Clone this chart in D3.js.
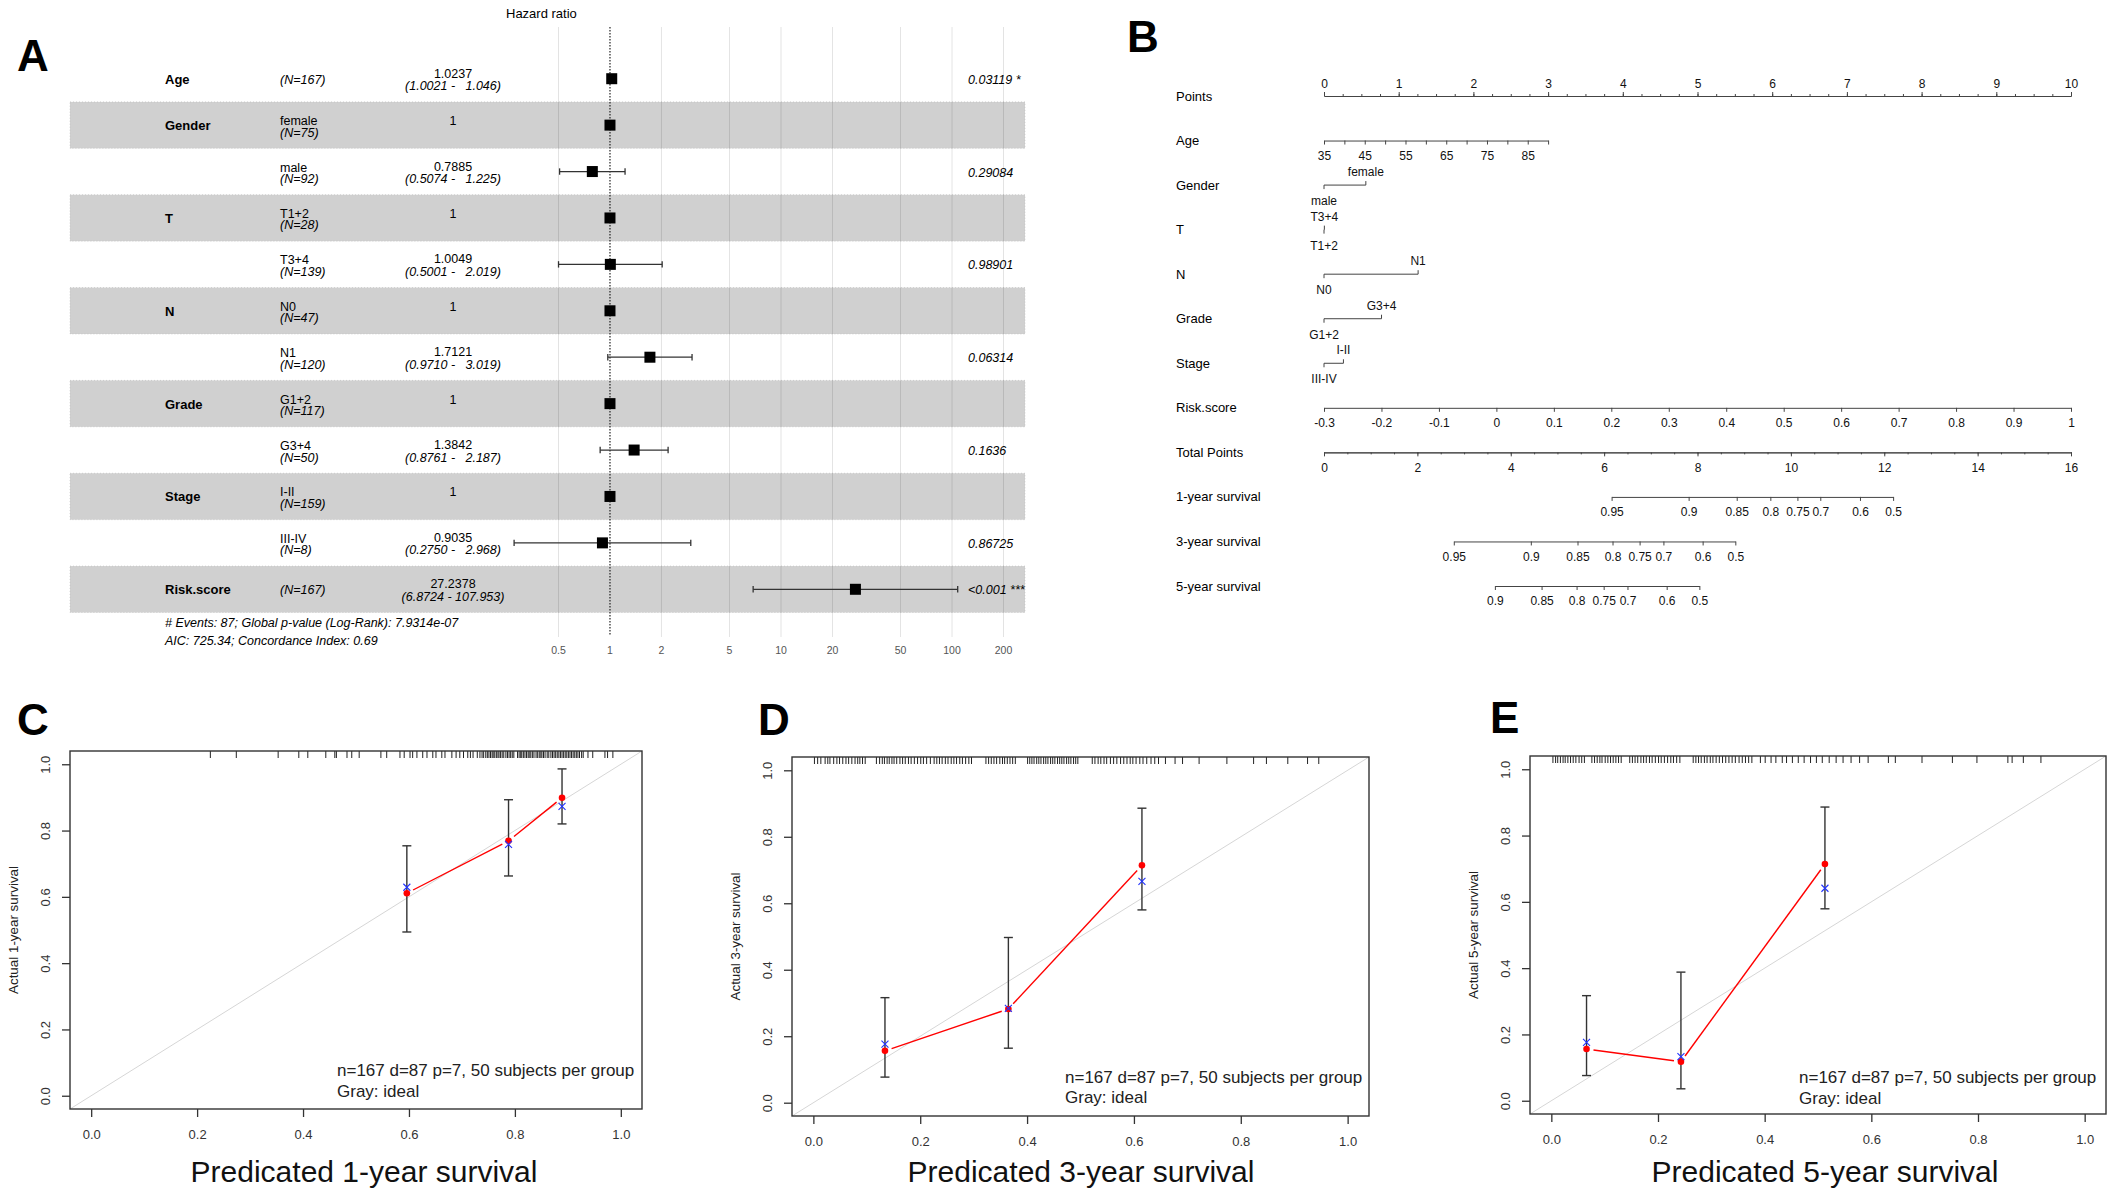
<!DOCTYPE html>
<html>
<head>
<meta charset="utf-8">
<script src="https://cdn.jsdelivr.net/npm/d3@7"></script>
<style>
body { margin: 0; background: #fff; }
text { font-family: 'Liberation Sans', Arial, sans-serif; }
.pre { white-space: pre; }
</style>
</head>
<body>
<script>
/* ------------------------------------------------------------------
 DATA
 -------------------------------------------------------------------- */

// panel A, forest plot
var forestVars   = ["Age","Gender","","T","","N","","Grade","","Stage","","Risk.score"];
var forestLevels = ["","female","male","T1+2","T3+4","N0","N1","G1+2","G3+4","I-II","III-IV",""];
var forestN      = [167,75,92,28,139,47,120,117,50,159,8,167];
var forestHR     = [1.0237,1,0.7885,1,1.0049,1,1.7121,1,1.3842,1,0.9035,27.2378];
var forestLo     = [1.0021,null,0.5074,null,0.5001,null,0.9710,null,0.8761,null,0.2750,6.8724];
var forestHi     = [1.046,null,1.225,null,2.019,null,3.019,null,2.187,null,2.968,107.953];
var forestHRText = ["1.0237","1","0.7885","1","1.0049","1","1.7121","1","1.3842","1","0.9035","27.2378"];
var forestCIText = ["(1.0021 -   1.046)","","(0.5074 -   1.225)","","(0.5001 -   2.019)","",
                    "(0.9710 -   3.019)","","(0.8761 -   2.187)","","(0.2750 -   2.968)","(6.8724 - 107.953)"];
var forestP      = ["0.03119 *","","0.29084","","0.98901","","0.06314","","0.1636","","0.86725","<0.001 ***"];
var hrTicks      = [0.5,1,2,5,10,20,50,100,200];
var forestFooter = ["# Events: 87; Global p-value (Log-Rank): 7.9314e-07",
                    "AIC: 725.34; Concordance Index: 0.69"];

// panel B, nomogram
var nomoRows = ["Points","Age","Gender","T","N","Grade","Stage","Risk.score","Total Points",
                "1-year survival","3-year survival","5-year survival"];
var ageTicks  = [35,40,45,50,55,60,65,70,75,80,85,90];
var ageLabels = [35,45,55,65,75,85];
var ageMaxPts = 3.0;
var genderLevels = ["female","male"], genderPts = [0.56, 0];
var tLevels      = ["T3+4","T1+2"],   tPts      = [0.005, 0];
var nLevels      = ["N1","N0"],       nPts      = [1.26, 0];
var gradeLevels  = ["G3+4","G1+2"],   gradePts  = [0.77, 0];
var stageLevels  = ["I-II","III-IV"], stagePts  = [0.26, 0];
var riskTicks  = [-0.3,-0.2,-0.1,0,0.1,0.2,0.3,0.4,0.5,0.6,0.7,0.8,0.9,1];
var riskLabels = ["-0.3","-0.2","-0.1","0","0.1","0.2","0.3","0.4","0.5","0.6","0.7","0.8","0.9","1"];
var s1Ticks = ["0.95","0.9","0.85","0.8","0.75","0.7","0.6","0.5"];
var s1Pts   = [6.16,7.81,8.84,9.56,10.14,10.63,11.48,12.19];
var s3Ticks = ["0.95","0.9","0.85","0.8","0.75","0.7","0.6","0.5"];
var s3Pts   = [2.78,4.43,5.43,6.18,6.76,7.27,8.11,8.81];
var s5Ticks = ["0.9","0.85","0.8","0.75","0.7","0.6","0.5"];
var s5Pts   = [3.66,4.66,5.41,5.99,6.50,7.34,8.04];

// panels C, D, E, calibration
var c1Pred = [0.596,0.788,0.889], c1Obs = [0.611,0.769,0.899], c1Corr = [0.629,0.758,0.873];
var c1Lo   = [0.494,0.663,0.820], c1Hi  = [0.754,0.893,0.986];
var c3Pred = [0.134,0.365,0.615], c3Obs = [0.156,0.282,0.714], c3Corr = [0.176,0.284,0.666];
var c3Lo   = [0.077,0.164,0.580], c3Hi  = [0.316,0.497,0.886];
var c5Pred = [0.066,0.243,0.513], c5Obs = [0.156,0.118,0.714], c5Corr = [0.176,0.133,0.641];
var c5Lo   = [0.076,0.036,0.579], c5Hi  = [0.317,0.388,0.886];
var calTicks = [0,0.2,0.4,0.6,0.8,1];

var rugC = [0.225,0.274,0.353,0.392,0.409,0.443,0.460,0.463,0.483,0.492,0.506,0.547,0.558,0.583,0.591,
  0.602,0.607,0.615,0.626,0.634,0.645,0.651,0.662,0.668,0.681,0.689,0.696,0.703,0.711,0.716,0.721,0.729,
  0.734,0.738,0.741,0.745,0.748,0.751,0.754,0.757,0.759,0.762,0.765,0.768,0.770,0.773,0.776,0.779,0.783,
  0.786,0.789,0.792,0.795,0.798,0.805,0.808,0.811,0.813,0.816,0.819,0.822,0.825,0.827,0.830,0.833,0.836,
  0.840,0.843,0.846,0.849,0.851,0.854,0.857,0.861,0.864,0.868,0.871,0.874,0.877,0.880,0.883,0.886,0.889,
  0.892,0.895,0.898,0.901,0.904,0.907,0.910,0.913,0.916,0.919,0.922,0.926,0.929,0.938,0.947,0.970,0.975,0.985];
var rugD = [0.002,0.008,0.014,0.022,0.027,0.031,0.038,0.044,0.049,0.055,0.061,0.066,0.072,0.078,0.083,0.087,
  0.092,0.097,0.118,0.124,0.129,0.133,0.138,0.142,0.147,0.151,0.156,0.162,0.167,0.172,0.178,0.183,0.189,
  0.195,0.201,0.206,0.212,0.219,0.226,0.231,0.236,0.241,0.247,0.252,0.258,0.263,0.268,0.274,0.279,0.285,
  0.291,0.296,0.323,0.328,0.333,0.338,0.343,0.349,0.354,0.358,0.363,0.368,0.373,0.378,0.401,0.405,0.409,
  0.413,0.418,0.422,0.426,0.431,0.435,0.439,0.444,0.448,0.452,0.457,0.461,0.465,0.469,0.474,0.478,0.482,
  0.487,0.491,0.495,0.522,0.527,0.533,0.538,0.544,0.549,0.556,0.562,0.568,0.575,0.581,0.587,0.593,0.598,
  0.604,0.611,0.617,0.624,0.632,0.639,0.646,0.659,0.677,0.691,0.722,0.774,0.824,0.848,0.888,0.925,0.946];
var rugE = [0.003,0.008,0.012,0.017,0.022,0.026,0.031,0.036,0.041,0.046,0.052,0.057,0.062,0.076,0.081,0.086,
  0.091,0.095,0.101,0.106,0.111,0.116,0.121,0.126,0.131,0.147,0.152,0.157,0.162,0.168,0.173,0.178,0.184,
  0.189,0.195,0.201,0.206,0.212,0.218,0.224,0.229,0.235,0.241,0.266,0.271,0.276,0.281,0.287,0.292,0.298,
  0.303,0.309,0.315,0.321,0.327,0.333,0.339,0.345,0.352,0.358,0.364,0.370,0.376,0.392,0.401,0.412,0.421,
  0.433,0.441,0.452,0.463,0.474,0.486,0.497,0.508,0.521,0.534,0.547,0.562,0.578,0.594,0.632,0.645,0.695,
  0.752,0.798,0.856,0.864,0.885,0.918];

/* ------------------------------------------------------------------
 SVG
 -------------------------------------------------------------------- */

var FONT = "'Liberation Sans', Arial, sans-serif";

var svg = d3.select("body")
	.append("svg")
	.attr("width",2115)
	.attr("height",1197);

function letter(txt, x, y) {
	svg.append("text")
		.attr("x",x).attr("y",y)
		.attr("font-size",44)
		.attr("font-weight","bold")
		.text(txt);
}

/* ---------------- A: forest plot ---------------- */

var gA = svg.append("g");
var nRows = forestLevels.length;
var rowY = d3.scaleBand().domain(d3.range(nRows)).range([55.5, 612.5]);
var hrX = d3.scaleLog().domain([0.5,200]).range([558.5,1003.5]);
var bw = rowY.bandwidth();
function cy(i){ return rowY(i) + bw/2; }

gA.selectAll("rect.band")
	.data(d3.range(nRows).filter(function(i){ return i % 2 === 1; }))
	.enter()
	.append("rect")
	.attr("x",70).attr("width",955)
	.attr("y",function(i){ return rowY(i); })
	.attr("height",bw)
	.attr("fill","#d0d0d0")
	.attr("stroke","#bcbcbc")
	.attr("stroke-width",0.6)
	.attr("stroke-dasharray","1,2");

gA.selectAll("line.grid")
	.data(hrTicks.filter(function(t){ return t !== 1; }))
	.enter()
	.append("line")
	.attr("x1",function(t){ return hrX(t); })
	.attr("x2",function(t){ return hrX(t); })
	.attr("y1",27).attr("y2",637)
	.attr("stroke","#000")
	.attr("stroke-opacity",0.11)
	.attr("stroke-width",1);

gA.append("line")
	.attr("x1",hrX(1)).attr("x2",hrX(1))
	.attr("y1",27).attr("y2",636)
	.attr("stroke","#222")
	.attr("stroke-width",1.2)
	.attr("stroke-dasharray","1.5,1.5");

gA.selectAll("text.hrtick")
	.data(hrTicks)
	.enter()
	.append("text")
	.attr("x",function(t){ return hrX(t); })
	.attr("y",654)
	.attr("text-anchor","middle")
	.attr("font-size",10.5)
	.attr("fill","#555")
	.text(function(t){ return t; });

gA.append("text")
	.attr("x",506).attr("y",17.5)
	.attr("font-size",13)
	.text("Hazard ratio");

var rows = gA.selectAll("g.row")
	.data(d3.range(nRows))
	.enter()
	.append("g");

rows.append("text")
	.attr("x",165)
	.attr("y",function(i){ return cy(i) + 5; })
	.attr("font-size",13)
	.attr("font-weight","bold")
	.text(function(i){ return forestVars[i]; });

rows.append("text")
	.attr("x",280)
	.attr("y",function(i){ return cy(i); })
	.attr("font-size",12.5)
	.text(function(i){ return forestLevels[i]; });

rows.append("text")
	.attr("x",280)
	.attr("y",function(i){ return cy(i) + (forestLevels[i] ? 11.5 : 5); })
	.attr("font-size",12.5)
	.attr("font-style","italic")
	.text(function(i){ return "(N=" + forestN[i] + ")"; });

rows.append("text")
	.attr("x",453)
	.attr("y",function(i){ return cy(i) - (forestLo[i] === null ? 0 : 1); })
	.attr("text-anchor","middle")
	.attr("font-size",12.5)
	.text(function(i){ return forestHRText[i]; });

rows.append("text")
	.attr("class","pre")
	.attr("xml:space","preserve")
	.attr("x",453)
	.attr("y",function(i){ return cy(i) + 11.5; })
	.attr("text-anchor","middle")
	.attr("font-size",12.5)
	.attr("font-style","italic")
	.text(function(i){ return forestCIText[i]; });

rows.append("text")
	.attr("x",968)
	.attr("y",function(i){ return cy(i) + 5; })
	.attr("font-size",12.5)
	.attr("font-style","italic")
	.text(function(i){ return forestP[i]; });

// confidence intervals
var ci = rows.filter(function(i){ return forestLo[i] !== null; });
ci.append("line")
	.attr("x1",function(i){ return hrX(forestLo[i]); })
	.attr("x2",function(i){ return hrX(forestHi[i]); })
	.attr("y1",cy).attr("y2",cy)
	.attr("stroke","#333").attr("stroke-width",1.3);
ci.append("line")
	.attr("x1",function(i){ return hrX(forestLo[i]); })
	.attr("x2",function(i){ return hrX(forestLo[i]); })
	.attr("y1",function(i){ return cy(i) - 3.2; })
	.attr("y2",function(i){ return cy(i) + 3.2; })
	.attr("stroke","#333").attr("stroke-width",1.3);
ci.append("line")
	.attr("x1",function(i){ return hrX(forestHi[i]); })
	.attr("x2",function(i){ return hrX(forestHi[i]); })
	.attr("y1",function(i){ return cy(i) - 3.2; })
	.attr("y2",function(i){ return cy(i) + 3.2; })
	.attr("stroke","#333").attr("stroke-width",1.3);

rows.append("rect")
	.attr("x",function(i){ return hrX(forestHR[i]) - 5.5; })
	.attr("y",function(i){ return cy(i) - 5.5; })
	.attr("width",11).attr("height",11)
	.attr("fill","#000");

gA.selectAll("text.foot")
	.data(forestFooter)
	.enter()
	.append("text")
	.attr("x",165)
	.attr("y",function(d,i){ return 627 + i*18; })
	.attr("font-size",12.5)
	.attr("font-style","italic")
	.text(function(d){ return d; });

letter("A", 17, 71);

/* ---------------- B: nomogram ---------------- */

var gB = svg.append("g");
var rowB = d3.scalePoint().domain(nomoRows).range([96, 586]);
var ptsX = d3.scaleLinear().domain([0,10]).range([1324,2071]);
var totX = d3.scaleLinear().domain([0,16]).range([1324,2071]);

gB.selectAll("text.rowlab")
	.data(nomoRows)
	.enter()
	.append("text")
	.attr("x",1176)
	.attr("y",function(d){ return rowB(d) + 4.5; })
	.attr("font-size",13)
	.text(function(d){ return d; });

function styleAxis(g) {
	g.attr("font-family",FONT).attr("font-size",12);
	g.selectAll("path, line").attr("stroke","#444");
	g.selectAll("text").attr("fill","#111");
}

// points
gB.append("g")
	.attr("transform","translate(0," + rowB("Points") + ")")
	.call(d3.axisTop(ptsX).tickValues(d3.range(0,10.01,0.25)).tickSize(2).tickSizeOuter(0).tickFormat(""))
	.call(styleAxis);
gB.append("g")
	.attr("transform","translate(0," + rowB("Points") + ")")
	.call(d3.axisTop(ptsX).tickValues(d3.range(0,11)).tickSize(4).tickSizeOuter(0).tickPadding(4.5))
	.call(styleAxis);

// age
var ageX = d3.scaleLinear().domain([35,90]).range([ptsX(0), ptsX(ageMaxPts)]);
gB.append("g")
	.attr("transform","translate(0," + rowB("Age") + ")")
	.call(d3.axisBottom(ageX).tickValues(ageTicks).tickSize(4).tickSizeOuter(0).tickPadding(6.8)
		.tickFormat(function(d){ return ageLabels.indexOf(d) >= 0 ? d : ""; }))
	.call(styleAxis);

// two level factors
function factorRow(name, levels, pts) {
	var y = rowB(name);
	var g = gB.append("g");
	g.append("line")
		.attr("x1",ptsX(d3.min(pts))).attr("x2",ptsX(d3.max(pts)))
		.attr("y1",y).attr("y2",y)
		.attr("stroke","#444");
	levels.forEach(function(lv, i){
		var up = i === 0;
		g.append("line")
			.attr("x1",ptsX(pts[i])).attr("x2",ptsX(pts[i]))
			.attr("y1",y).attr("y2",up ? y - 4 : y + 4)
			.attr("stroke","#444");
		g.append("text")
			.attr("x",ptsX(pts[i]))
			.attr("y",up ? y - 9 : y + 20)
			.attr("text-anchor","middle")
			.attr("font-size",12)
			.attr("fill","#111")
			.text(lv);
	});
}
factorRow("Gender", genderLevels, genderPts);
factorRow("T", tLevels, tPts);
factorRow("N", nLevels, nPts);
factorRow("Grade", gradeLevels, gradePts);
factorRow("Stage", stageLevels, stagePts);

// risk score
var riskX = d3.scaleLinear().domain([-0.3,1]).range([ptsX(0), ptsX(10)]);
gB.append("g")
	.attr("transform","translate(0," + rowB("Risk.score") + ")")
	.call(d3.axisBottom(riskX).tickValues(riskTicks).tickSize(4).tickSizeOuter(0).tickPadding(6.8)
		.tickFormat(function(d,i){ return riskLabels[i]; }))
	.call(styleAxis);

// total points
gB.append("g")
	.attr("transform","translate(0," + rowB("Total Points") + ")")
	.call(d3.axisBottom(totX).tickValues(d3.range(0,16.01,0.5)).tickSize(2).tickSizeOuter(0).tickFormat(""))
	.call(styleAxis);
gB.append("g")
	.attr("transform","translate(0," + rowB("Total Points") + ")")
	.call(d3.axisBottom(totX).tickValues(d3.range(0,17,2)).tickSize(4).tickSizeOuter(0).tickPadding(6.8))
	.call(styleAxis);

// survival
function survRow(name, labels, pts) {
	var ext = d3.extent(pts);
	var sx = d3.scaleLinear().domain(ext).range(ext.map(totX));
	gB.append("g")
		.attr("transform","translate(0," + rowB(name) + ")")
		.call(d3.axisBottom(sx).tickValues(pts).tickSize(4).tickSizeOuter(0).tickPadding(6.8)
			.tickFormat(function(d,i){ return labels[i]; }))
		.call(styleAxis);
}
survRow("1-year survival", s1Ticks, s1Pts);
survRow("3-year survival", s3Ticks, s3Pts);
survRow("5-year survival", s5Ticks, s5Pts);

letter("B", 1127, 52);

/* ---------------- C, D, E: calibration ---------------- */

var calPanels = [
	{ letter:"C", yr:"1", pred:c1Pred, obs:c1Obs, corr:c1Corr, lo:c1Lo, hi:c1Hi, rug:rugC,
	  l:70, r:642, t:751, b:1109, lx:17, ly:735, tx:337, ty:1076, titleX:364 },
	{ letter:"D", yr:"3", pred:c3Pred, obs:c3Obs, corr:c3Corr, lo:c3Lo, hi:c3Hi, rug:rugD,
	  l:792, r:1369, t:757, b:1116, lx:758, ly:735, tx:1065, ty:1082.5, titleX:1081 },
	{ letter:"E", yr:"5", pred:c5Pred, obs:c5Obs, corr:c5Corr, lo:c5Lo, hi:c5Hi, rug:rugE,
	  l:1530, r:2106, t:756, b:1114, lx:1490, ly:733, tx:1799, ty:1083, titleX:1825 }
];

calPanels.forEach(function(p){
	var g = svg.append("g");
	var x = d3.scaleLinear().domain([-0.04,1.04]).range([p.l,p.r]);
	var y = d3.scaleLinear().domain([-0.04,1.04]).range([p.b,p.t]);

	// ideal line
	g.append("line")
		.attr("x1",x(-0.04)).attr("y1",y(-0.04))
		.attr("x2",x(1.04)).attr("y2",y(1.04))
		.attr("stroke","#d6d6d6").attr("stroke-width",1);

	// rug
	g.selectAll("line.rug")
		.data(p.rug)
		.enter()
		.append("line")
		.attr("x1",function(d){ return x(d); })
		.attr("x2",function(d){ return x(d); })
		.attr("y1",p.t).attr("y2",p.t + 7)
		.attr("stroke","#222").attr("stroke-width",1);

	// error bars
	var idx = d3.range(p.pred.length);
	idx.forEach(function(i){
		var xx = x(p.pred[i]);
		g.append("line").attr("x1",xx).attr("x2",xx)
			.attr("y1",y(p.lo[i])).attr("y2",y(p.hi[i]))
			.attr("stroke","#333").attr("stroke-width",1.4);
		[p.lo[i], p.hi[i]].forEach(function(v){
			g.append("line").attr("x1",xx - 4.5).attr("x2",xx + 4.5)
				.attr("y1",y(v)).attr("y2",y(v))
				.attr("stroke","#333").attr("stroke-width",1.4);
		});
	});

	// red line with gaps at points
	for (var i = 0; i < p.pred.length - 1; i++) {
		var x0 = x(p.pred[i]), y0 = y(p.obs[i]), x1 = x(p.pred[i+1]), y1 = y(p.obs[i+1]);
		var len = Math.sqrt((x1-x0)*(x1-x0) + (y1-y0)*(y1-y0)), gap = 7 / len;
		g.append("line")
			.attr("x1",x0 + (x1-x0)*gap).attr("y1",y0 + (y1-y0)*gap)
			.attr("x2",x1 - (x1-x0)*gap).attr("y2",y1 - (y1-y0)*gap)
			.attr("stroke","#ff0000").attr("stroke-width",1.4);
	}

	g.selectAll("circle.obs")
		.data(idx)
		.enter()
		.append("circle")
		.attr("cx",function(i){ return x(p.pred[i]); })
		.attr("cy",function(i){ return y(p.obs[i]); })
		.attr("r",3.3)
		.attr("fill","#ff0000");

	idx.forEach(function(i){
		var xx = x(p.pred[i]), yy = y(p.corr[i]);
		g.append("path")
			.attr("d","M"+(xx-3.5)+","+(yy-3.5)+"L"+(xx+3.5)+","+(yy+3.5)+"M"+(xx-3.5)+","+(yy+3.5)+"L"+(xx+3.5)+","+(yy-3.5))
			.attr("stroke","#2233ff").attr("stroke-width",1.1).attr("fill","none");
	});

	// box
	g.append("rect")
		.attr("x",p.l).attr("y",p.t)
		.attr("width",p.r - p.l).attr("height",p.b - p.t)
		.attr("fill","none").attr("stroke","#333").attr("stroke-width",1.4);

	// axes
	var ax = g.append("g")
		.attr("transform","translate(0," + p.b + ")")
		.call(d3.axisBottom(x).tickValues(calTicks).tickSize(8).tickSizeOuter(0).tickPadding(12.5)
			.tickFormat(d3.format(".1f")));
	ax.select(".domain").remove();
	ax.attr("font-family",FONT).attr("font-size",13);
	ax.selectAll("line").attr("stroke","#333").attr("stroke-width",1.3);
	ax.selectAll("text").attr("fill","#333");

	var ay = g.append("g")
		.attr("transform","translate(" + p.l + ",0)")
		.call(d3.axisLeft(y).tickValues(calTicks).tickSize(8).tickSizeOuter(0)
			.tickFormat(d3.format(".1f")));
	ay.select(".domain").remove();
	ay.attr("font-family",FONT).attr("font-size",13);
	ay.selectAll("line").attr("stroke","#333").attr("stroke-width",1.3);
	ay.selectAll("text")
		.attr("x",null).attr("dy",null)
		.attr("transform","translate(-25,0) rotate(-90)")
		.attr("text-anchor","middle")
		.attr("dominant-baseline","central")
		.attr("fill","#333");

	g.append("text")
		.attr("transform","translate(" + (p.l - 56.5) + "," + ((p.t + p.b)/2) + ") rotate(-90)")
		.attr("text-anchor","middle")
		.attr("dominant-baseline","central")
		.attr("font-size",13.4)
		.attr("fill","#222")
		.text("Actual " + p.yr + "-year survival");

	g.append("text")
		.attr("x",p.titleX).attr("y",1182)
		.attr("text-anchor","middle")
		.attr("font-size",30)
		.attr("fill","#111")
		.text("Predicated " + p.yr + "-year survival");

	g.append("text")
		.attr("x",p.tx).attr("y",p.ty)
		.attr("font-size",17)
		.attr("fill","#222")
		.text("n=167 d=87 p=7, 50 subjects per group");
	g.append("text")
		.attr("x",p.tx).attr("y",p.ty + 20.5)
		.attr("font-size",17)
		.attr("fill","#222")
		.text("Gray: ideal");

	letter(p.letter, p.lx, p.ly);
});
</script>
</body>
</html>
